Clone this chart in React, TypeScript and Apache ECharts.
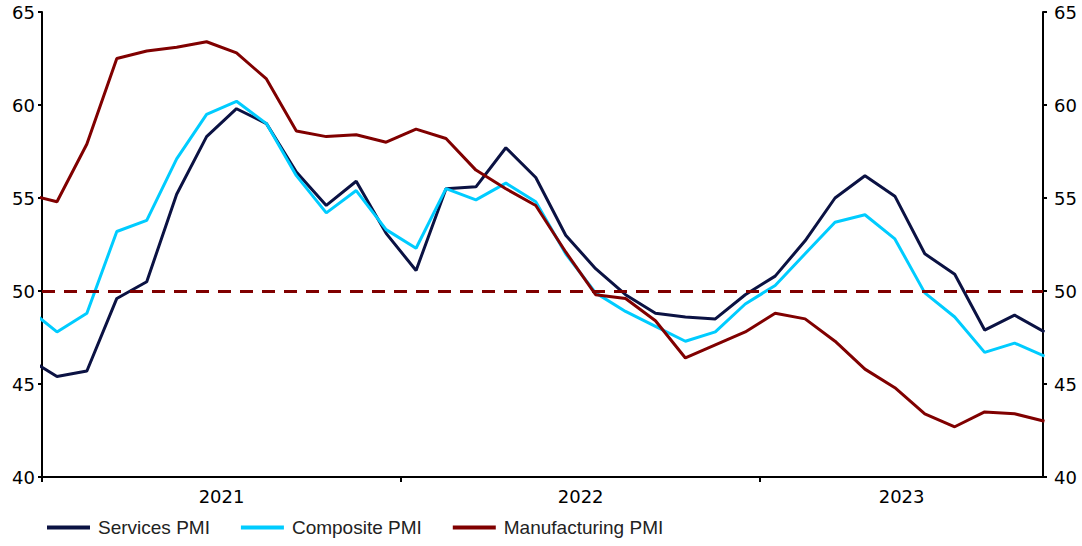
import React, { useEffect, useRef } from "react";
import * as echarts from "echarts";

// Monthly observations, Dec 2020 .. Oct 2023
const months: string[] = [
  "2020-12",
  "2021-01", "2021-02", "2021-03", "2021-04", "2021-05", "2021-06",
  "2021-07", "2021-08", "2021-09", "2021-10", "2021-11", "2021-12",
  "2022-01", "2022-02", "2022-03", "2022-04", "2022-05", "2022-06",
  "2022-07", "2022-08", "2022-09", "2022-10", "2022-11", "2022-12",
  "2023-01", "2023-02", "2023-03", "2023-04", "2023-05", "2023-06",
  "2023-07", "2023-08", "2023-09", "2023-10",
];

const servicesPMI: number[] = [
  46.4,
  45.4, 45.7, 49.6, 50.5, 55.2, 58.3, 59.8, 59.0, 56.4, 54.6, 55.9, 53.1,
  51.1, 55.5, 55.6, 57.7, 56.1, 53.0, 51.2, 49.8, 48.8, 48.6, 48.5, 49.8,
  50.8, 52.7, 55.0, 56.2, 55.1, 52.0, 50.9, 47.9, 48.7, 47.8,
];

const compositePMI: number[] = [
  49.1,
  47.8, 48.8, 53.2, 53.8, 57.1, 59.5, 60.2, 59.0, 56.2, 54.2, 55.4, 53.3,
  52.3, 55.5, 54.9, 55.8, 54.8, 52.0, 49.9, 48.9, 48.1, 47.3, 47.8, 49.3,
  50.3, 52.0, 53.7, 54.1, 52.8, 49.9, 48.6, 46.7, 47.2, 46.5,
];

const manufacturingPMI: number[] = [
  55.2,
  54.8, 57.9, 62.5, 62.9, 63.1, 63.4, 62.8, 61.4, 58.6, 58.3, 58.4, 58.0,
  58.7, 58.2, 56.5, 55.5, 54.6, 52.1, 49.8, 49.6, 48.4, 46.4, 47.1, 47.8,
  48.8, 48.5, 47.3, 45.8, 44.8, 43.4, 42.7, 43.5, 43.4, 43.0,
];

const yearLabels: string[] = ["2021", "2022", "2023"];
const thresholdLevel = 50;
const yMin = 40;
const yMax = 65;
const yStep = 5;

export default function App() {
  const ref = useRef<HTMLDivElement>(null);

  useEffect(() => {
    if (!ref.current) return;
    const chart = echarts.init(ref.current, null, { renderer: "svg" });

    // x in months since start of 2021; observation centred mid-month
    const firstYear = Number(yearLabels[0]);
    const toX = (m: string) => {
      const [y, mo] = m.split("-").map(Number);
      return (y - firstYear) * 12 + (mo - 1) + 0.5;
    };
    const xMin = 0;
    const xMax = 33.45;
    const pts = (vals: number[]) => vals.map((v, i) => [toX(months[i]), v]);

    const yearStarts = yearLabels.map((_, k) => k * 12);
    const labelPos = yearStarts.map(
      (s) => (Math.max(s, xMin) + Math.min(s + 12, xMax)) / 2
    );

    const yAxisCommon = {
      type: "value" as const,
      min: yMin,
      max: yMax,
      interval: yStep,
      splitLine: { show: false },
      axisLine: { show: true, lineStyle: { color: "#000", width: 2 } },
      axisTick: { show: true, length: 4, lineStyle: { color: "#000", width: 2 } },
    };

    chart.setOption({
      animation: false,
      grid: { left: 42, right: 39, top: 12, bottom: 69, containLabel: false },
      xAxis: {
        type: "value",
        min: xMin,
        max: xMax,
        splitLine: { show: false },
        axisLine: { onZero: false, lineStyle: { color: "#000", width: 2 } },
        axisTick: {
          show: true,
          length: 5,
          customValues: yearStarts,
          lineStyle: { color: "#000", width: 2 },
        },
        axisLabel: {
          customValues: labelPos,
          formatter: (v: number) => yearLabels[Math.floor(v / 12)] ?? "",
          margin: 10,
          color: "#000",
          fontSize: 18,
          fontFamily: "DejaVu Sans",
        },
      },
      yAxis: [
        {
          ...yAxisCommon,
          position: "left",
          axisLabel: { color: "#000", fontSize: 18, fontFamily: "DejaVu Sans", margin: 7 },
        },
        {
          ...yAxisCommon,
          position: "right",
          axisLabel: { color: "#000", fontSize: 18, fontFamily: "DejaVu Sans", margin: 11 },
        },
      ],
      legend: {
        left: 47,
        top: 518,
        padding: 0,
        itemGap: 31,
        itemWidth: 43,
        itemHeight: 4,
        icon: "rect",
        textStyle: {
          color: "#222",
          fontSize: 19,
          fontFamily: "Liberation Sans, Arial, sans-serif",
          padding: [0, 0, 0, 3],
        },
        data: ["Services PMI", "Composite PMI", "Manufacturing PMI"],
      },
      series: [
        {
          name: "Services PMI",
          type: "line",
          data: pts(servicesPMI),
          showSymbol: false,
          symbol: "none",
          clip: true,
          color: "#0B1243",
          lineStyle: { width: 3, color: "#0B1243" },
        },
        {
          name: "Composite PMI",
          type: "line",
          data: pts(compositePMI),
          showSymbol: false,
          symbol: "none",
          clip: true,
          color: "#00CCFF",
          lineStyle: { width: 3, color: "#00CCFF" },
        },
        {
          name: "Manufacturing PMI",
          type: "line",
          data: pts(manufacturingPMI),
          showSymbol: false,
          symbol: "none",
          clip: true,
          color: "#800000",
          lineStyle: { width: 3, color: "#800000" },
          markLine: {
            silent: true,
            symbol: "none",
            label: { show: false },
            lineStyle: { color: "#800000", width: 3, type: [13, 9] },
            data: [{ yAxis: thresholdLevel }],
          },
        },
      ],
    });

    return () => chart.dispose();
  }, []);

  return (
    <div
      ref={ref}
      style={{ position: "absolute", left: 0, top: 0, width: 1082, height: 546, background: "#fff" }}
    />
  );
}
